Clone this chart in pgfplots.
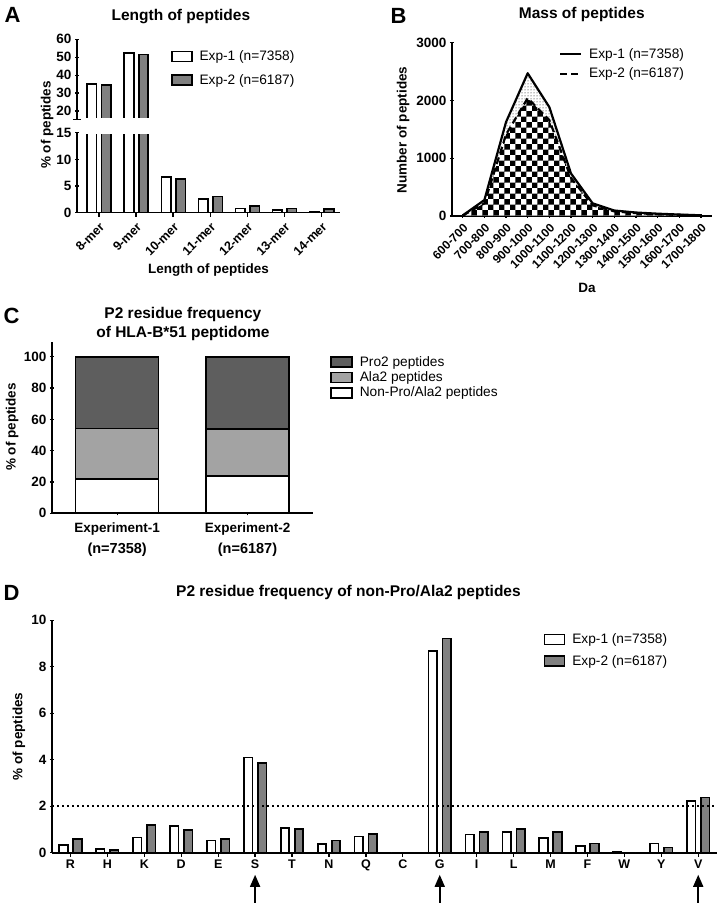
\documentclass[border=0pt]{standalone}
\usepackage{fontspec}
\setmainfont{Liberation Sans}
\usepackage{pgfplots}
\pgfplotsset{compat=1.18}
\usetikzlibrary{patterns,arrows.meta}

\definecolor{barg}{HTML}{808080}
\definecolor{pro}{HTML}{5E5E5E}
\definecolor{ala}{HTML}{A3A3A3}

\pgfplotsset{
  gp/.style={
    scale only axis,
    anchor=south west,
    axis line style={line width=1.6pt},
    tick style={line width=1.3pt, black},
    tick align=outside,
    major tick length=4pt,
    every axis title shift=0pt,
    /pgf/number format/assume math mode=true,
    /pgf/number format/1000 sep={},
    scaled y ticks=false,
    tick label style={font=\fontsize{13.5}{15}\selectfont\bfseries},
    label style={font=\fontsize{13.5}{16}\selectfont\bfseries},
    title style={font=\fontsize{15.5}{19}\selectfont\bfseries},
    legend style={draw=none, fill=none, font=\fontsize{13.7}{15}\selectfont},
    legend cell align=left,
  },
  noarrow/.style={x axis line style={-}, y axis line style={-}},
}

\begin{document}
\begin{tikzpicture}
\useasboundingbox (0,0) rectangle (720pt,903pt);

% ---------------- A : length of peptides (broken axis) ----------------
\node[font=\fontsize{22}{22}\selectfont\bfseries] at (12.5pt,888.5pt) {A};

\begin{axis}[gp, at={(77pt,690.3pt)}, width=263pt, height=80pt,
  xmin=-0.59, xmax=6.5, ymin=0, ymax=15,
  axis x line=bottom, axis y line=left, noarrow,
  ytick={0,5,10,15},
  xtick={0,...,6},
  xticklabels={8-mer,9-mer,10-mer,11-mer,12-mer,13-mer,14-mer},
  xticklabel style={rotate=45, anchor=north east, font=\fontsize{12.5}{13}\selectfont\bfseries},
  xlabel={Length of peptides},
  xlabel style={at={(axis description cs:0.5,-0.72)}, anchor=center},
  ylabel={\% of peptides},
  ylabel style={at={(axis description cs:-0.114,1.096)}, anchor=center},
  ybar, bar width=9.5pt]
\addplot[fill=white, draw=black, line width=1.6pt, bar shift=-7pt]
  coordinates {(0,35.0)(1,52.4)(2,6.64)(3,2.57)(4,0.82)(5,0.45)(6,0.26)};
\addplot[fill=barg, draw=black, line width=1.6pt, bar shift=7.5pt]
  coordinates {(0,34.6)(1,51.5)(2,6.3)(3,3.0)(4,1.3)(5,0.82)(6,0.64)};
% open the bar tops at the axis break
\draw[white, line width=2.4pt] (axis cs:-0.4,15) -- (axis cs:1.45,15);
\end{axis}

\begin{axis}[gp, at={(77pt,783.7pt)}, width=263pt, height=80pt,
  xmin=-0.59, xmax=6.5, ymin=15.4, ymax=60,
  axis x line=none, axis y line=left, noarrow,
  ytick={20,30,40,50,60},
  extra y ticks={15.4}, extra y tick labels={},
  extra y tick style={tick align=center, major tick length=8pt},
  title={Length of peptides},
  title style={at={(axis description cs:0.395,1.29)}, anchor=center},
  ybar, bar width=9.5pt,
  legend style={at={(axis description cs:0.345,0.91)}, anchor=north west, row sep=8pt},
  legend image code/.code={\draw[#1, line width=1.6pt] (0pt,-5pt) rectangle (20pt,5pt); \path (25pt,0pt);}]
\addplot[fill=white, draw=black, line width=1.6pt, bar shift=-7pt]
  coordinates {(0,35.0)(1,52.4)};
\addlegendentry{Exp-1 (n=7358)}
\addplot[fill=barg, draw=black, line width=1.6pt, bar shift=7.5pt]
  coordinates {(0,34.6)(1,51.5)};
\addlegendentry{Exp-2 (n=6187)}
% open the bar bottoms at the axis break
\draw[white, line width=2.4pt] (axis cs:-0.4,15.4) -- (axis cs:1.45,15.4);
\end{axis}

% ---------------- B : mass of peptides ----------------
\node[font=\fontsize{22}{22}\selectfont\bfseries] at (398.5pt,887.5pt) {B};

\begin{axis}[gp, at={(451.9pt,687pt)}, width=259.8pt, height=173.3pt,
  xmin=-0.5, xmax=11.5, ymin=0, ymax=3000,
  axis x line=bottom, axis y line=left, noarrow,
  ytick={0,1000,2000,3000},
  xtick={0,...,11},
  xticklabels={600-700,700-800,800-900,900-1000,1000-1100,1100-1200,1200-1300,1300-1400,1400-1500,1500-1600,1600-1700,1700-1800},
  xticklabel style={rotate=45, anchor=north east, font=\fontsize{12}{12}\selectfont\bfseries},
  xlabel={Da},
  xlabel style={at={(axis description cs:0.52,-0.415)}, anchor=center},
  ylabel={Number of peptides},
  ylabel style={at={(axis description cs:-0.188,0.496)}, anchor=center},
  title={Mass of peptides},
  title style={at={(axis description cs:0.5,1.16)}, anchor=center},
  legend style={at={(axis description cs:0.40,0.99)}, anchor=north west, row sep=4pt},
  legend image code/.code={\draw[#1] (0pt,0pt) -- (21pt,0pt); \path (26pt,0pt);}]
\addplot[draw=none, pattern=dots, forget plot] table {
x y
0 10
1 276
2 1626
3 2471
4 1885
5 736
6 219
7 95
8 60
9 40
10 25
11 12
} \closedcycle;
\addplot[draw=none, fill=white, forget plot] table {
x y
0 8
1 219
2 1410
3 2040
4 1660
5 660
6 184
7 80
8 50
9 30
10 20
11 10
} \closedcycle;
\addplot[draw=none, pattern=checkerboard, forget plot] table {
x y
0 8
1 219
2 1410
3 2040
4 1660
5 660
6 184
7 80
8 50
9 30
10 20
11 10
} \closedcycle;
\addplot[black, line width=2.2pt, line join=round] table {
x y
0 10
1 276
2 1626
3 2471
4 1885
5 736
6 219
7 95
8 60
9 40
10 25
11 12
};
\addlegendentry{Exp-1 (n=7358)}
\addplot[black, line width=2.2pt, dash pattern=on 7pt off 4pt] table {
x y
0 8
1 219
2 1410
3 2040
4 1660
5 660
6 184
7 80
8 50
9 30
10 20
11 10
};
\addlegendentry{Exp-2 (n=6187)}
\end{axis}

% ---------------- C : P2 residue frequency ----------------
\node[font=\fontsize{22}{22}\selectfont\bfseries] at (11.5pt,587pt) {C};

\begin{axis}[gp, at={(52pt,389.7pt)}, width=260.7pt, height=171.6pt,
  xmin=-0.5, xmax=1.5, ymin=0, ymax=109.6,
  axis x line=bottom, axis y line=left, noarrow,
  ytick={0,20,...,100},
  xtick={0,1},
  xticklabels={{Experiment-1\\[6pt]{\fontsize{14.5}{16}\selectfont(n=7358)}},{Experiment-2\\[6pt]{\fontsize{14.5}{16}\selectfont(n=6187)}}},
  xticklabel style={align=center, yshift=-4pt},
  ylabel={\% of peptides},
  ylabel style={at={(axis description cs:-0.153,0.503)}, anchor=center},
  title={P2 residue frequency\\of HLA-B*51 peptidome},
  title style={align=center, at={(axis description cs:0.502,1.106)}, anchor=center},
  ybar stacked, bar width=83pt,
  reverse legend,
  legend style={at={(axis description cs:1.055,0.94)}, anchor=north west, row sep=0pt},
  legend image code/.code={\draw[#1, line width=1.6pt] (0pt,-5pt) rectangle (21pt,5pt); \path (26pt,0pt);}]
\addplot[fill=white, draw=black, line width=1.6pt] coordinates {(0,22.0)(1,24.0)};
\addlegendentry{Non-Pro/Ala2 peptides}
\addplot[fill=ala, draw=black, line width=1.6pt] coordinates {(0,32.2)(1,30.0)};
\addlegendentry{Ala2 peptides}
\addplot[fill=pro, draw=black, line width=1.6pt] coordinates {(0,45.8)(1,46.0)};
\addlegendentry{Pro2 peptides}
\end{axis}

% ---------------- D : non-Pro/Ala2 residues ----------------
\node[font=\fontsize{22}{22}\selectfont\bfseries] at (11.5pt,310pt) {D};

\begin{axis}[gp, at={(52pt,50.3pt)}, width=664.7pt, height=232.5pt,
  xmin=-0.5, xmax=17.5, ymin=0, ymax=10,
  axis x line=bottom, axis y line=left, noarrow,
  clip=false,
  ytick={0,2,...,10},
  xtick={0,...,17},
  xticklabels={R,H,K,D,E,S,T,N,Q,C,G,I,L,M,F,W,Y,V},
  xticklabel style={font=\fontsize{12.5}{13}\selectfont\bfseries},
  ylabel={\% of peptides},
  ylabel style={at={(axis description cs:-0.05,0.5)}, anchor=center},
  title={P2 residue frequency of non-Pro/Ala2 peptides},
  title style={at={(axis description cs:0.446,1.121)}, anchor=center},
  ybar, bar width=8.5pt,
  legend style={at={(axis description cs:0.735,0.96)}, anchor=north west, row sep=6pt},
  legend image code/.code={\draw[#1, line width=1.6pt] (0pt,-5pt) rectangle (20pt,5pt); \path (25pt,0pt);}]
\addplot[fill=white, draw=black, line width=1.6pt, bar shift=-7pt]
  coordinates {(0,0.33)(1,0.17)(2,0.66)(3,1.15)(4,0.52)(5,4.09)(6,1.05)(7,0.37)(8,0.69)
               (9,0)(10,8.67)(11,0.79)(12,0.89)(13,0.62)(14,0.29)(15,0.03)(16,0.40)(17,2.22)};
\addlegendentry{Exp-1 (n=7358)}
\addplot[fill=barg, draw=black, line width=1.6pt, bar shift=7pt]
  coordinates {(0,0.60)(1,0.12)(2,1.18)(3,0.98)(4,0.58)(5,3.87)(6,1.02)(7,0.52)(8,0.80)
               (9,0)(10,9.22)(11,0.89)(12,1.02)(13,0.88)(14,0.40)(15,0)(16,0.23)(17,2.37)};
\addlegendentry{Exp-2 (n=6187)}
\addplot[sharp plot, black, line width=1.8pt, dash pattern=on 1.8pt off 3.2pt, forget plot]
  coordinates {(-0.5,2)(17.5,2)};
\draw[-{Triangle[width=10pt,length=12pt]}, line width=1.6pt] (axis cs:5,-2.2) -- (axis cs:5,-0.95);
\draw[-{Triangle[width=10pt,length=12pt]}, line width=1.6pt] (axis cs:10,-2.2) -- (axis cs:10,-0.95);
\draw[-{Triangle[width=10pt,length=12pt]}, line width=1.6pt] (axis cs:17,-2.2) -- (axis cs:17,-0.95);
\end{axis}

\end{tikzpicture}
\end{document}
